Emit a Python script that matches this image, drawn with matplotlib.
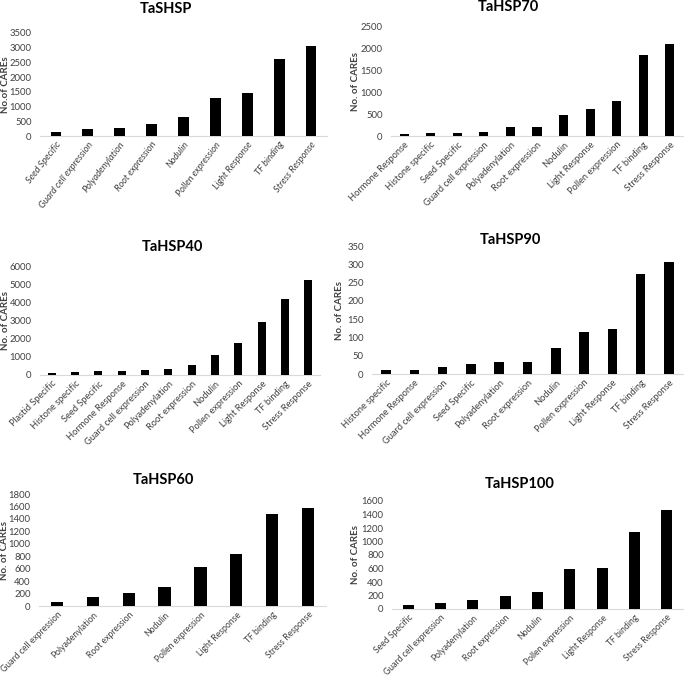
import numpy as np
import matplotlib.pyplot as plt

W, H = 685, 679

# ---- data ----
shsp_cats = ['Seed Specific', 'Guard cell expression', 'Polyadenylation', 'Root expression',
             'Nodulin', 'Pollen expression', 'Light Response', 'TF binding', 'Stress Response']
shsp_vals = [125, 227, 283, 397, 635, 1292, 1473, 2629, 3048]

hsp70_cats = ['Hormone Response', 'Histone specific', 'Seed Specific', 'Guard cell expression',
              'Polyadenylation', 'Root expression', 'Nodulin', 'Light Response',
              'Pollen expression', 'TF binding', 'Stress Response']
hsp70_vals = [46, 61, 61, 99, 214, 214, 489, 612, 803, 1858, 2102]

hsp40_cats = ['Plastid Specific', 'Histone specific', 'Seed Specific', 'Hormone Response',
              'Guard cell expression', 'Polyadenylation', 'Root expression', 'Nodulin',
              'Pollen expression', 'Light Response', 'TF binding', 'Stress Response']
hsp40_vals = [92, 147, 220, 239, 294, 349, 532, 1083, 1780, 2899, 4165, 5229]

hsp90_cats = ['Histone specific', 'Hormone Response', 'Guard cell expression', 'Seed Specific',
              'Polyadenylation', 'Root expression', 'Nodulin', 'Pollen expression',
              'Light Response', 'TF binding', 'Stress Response']
hsp90_vals = [11, 11, 19, 28, 32, 32, 71, 115, 123, 274, 306]

hsp60_cats = ['Guard cell expression', 'Polyadenylation', 'Root expression', 'Nodulin',
              'Pollen expression', 'Light Response', 'TF binding', 'Stress Response']
hsp60_vals = [64, 150, 204, 300, 632, 836, 1484, 1580]

hsp100_cats = ['Seed Specific', 'Guard cell expression', 'Polyadenylation', 'Root expression',
               'Nodulin', 'Pollen expression', 'Light Response', 'TF binding', 'Stress Response']
hsp100_vals = [59, 88, 128, 196, 245, 589, 614, 1134, 1463]

plt.rcParams['font.family'] = ['Lato', 'DejaVu Sans']
txt = '#404040'


def rect(x0, x1, ybot, ytop):
    return [x0 / W, 1 - ybot / H, (x1 - x0) / W, (ybot - ytop) / H]


def panel(fig, r, cats, vals, ymax, step, title, title_xy, ylab, ylab_x,
          italic=False, rot=45, fs=6.7):
    ax = fig.add_axes(r)
    x = np.arange(len(cats))
    ax.bar(x, vals, width=0.34, color='black', zorder=3)
    ax.set_xlim(-0.5, len(cats) - 0.5)
    ax.set_ylim(0, ymax)
    ax.set_yticks(np.arange(0, ymax + 1, step))
    ax.set_xticks(x)
    ax.set_xticklabels(cats, rotation=rot, ha='right', rotation_mode='anchor',
                       fontsize=fs, color=txt, style='italic' if italic else 'normal')
    ax.tick_params(axis='y', labelsize=6.8, labelcolor=txt, length=0, pad=6)
    ax.tick_params(axis='x', length=0, pad=3)
    for s in ['left', 'right', 'top']:
        ax.spines[s].set_visible(False)
    ax.spines['bottom'].set_color('#d9d9d9')
    ax.patch.set_alpha(0)
    fig.text(title_xy[0] / W, 1 - title_xy[1] / H, title, fontsize=10.5,
             fontweight='bold', ha='center', va='center', color='black')
    yc = (r[1] + r[3] / 2)
    fig.text(ylab_x / W, yc, ylab, rotation=90, fontsize=7, fontweight='bold',
             ha='center', va='center', color=txt)
    return ax


fig = plt.figure(figsize=(W / 100, H / 100), dpi=100)

panel(fig, rect(40, 327, 136, 33), shsp_cats, shsp_vals, 3500, 500,
      'TaSHSP', (166, 9), 'No.of CAREs', 6, italic=True, rot=52)
panel(fig, rect(391, 683, 136, 27), hsp70_cats, hsp70_vals, 2500, 500,
      'TaHSP70', (508, 7), 'No. of CAREs', 356)
panel(fig, rect(40, 320, 375, 266), hsp40_cats, hsp40_vals, 6000, 1000,
      'TaHSP40', (172, 247), 'No. of CAREs', 6)
panel(fig, rect(372, 683, 374, 246), hsp90_cats, hsp90_vals, 350, 50,
      'TaHSP90', (510, 240), 'No. of CAREs', 340)
panel(fig, rect(39, 326, 606, 494), hsp60_cats, hsp60_vals, 1800, 200,
      'TaHSP60', (163, 480), 'No. of CAREs', 5, fs=6.2)
panel(fig, rect(392, 683, 609, 501), hsp100_cats, hsp100_vals, 1600, 200,
      'TaHSP100', (520, 484), 'No. of CAREs', 356, fs=6.2)

fig.savefig('out.png', dpi=100, facecolor='white')
